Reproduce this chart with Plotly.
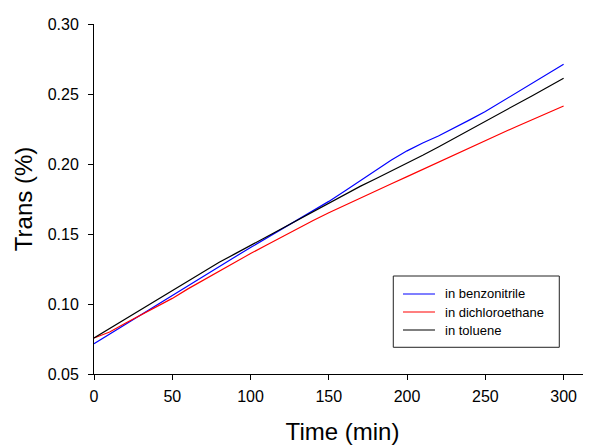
import plotly.graph_objects as go

time_min = [0, 10, 20, 30, 40, 50, 60, 70, 80, 90, 100, 110, 120, 130, 140, 150,
            160, 170, 180, 190, 200, 210, 220, 230, 240, 250, 260, 270, 280, 290, 300]
benzonitrile = [0.0716, 0.0785, 0.0855, 0.0925, 0.0995, 0.1065, 0.1133, 0.1200, 0.1268, 0.1336,
                0.1403, 0.1468, 0.1534, 0.1600, 0.1666, 0.1733, 0.1805, 0.1880, 0.1955, 0.2028,
                0.2094, 0.2150, 0.2200, 0.2255, 0.2315, 0.2375, 0.2442, 0.2510, 0.2578, 0.2645, 0.2712]
dichloroethane = [0.0757, 0.0800, 0.0862, 0.0922, 0.0985, 0.1040, 0.1108, 0.1172, 0.1236, 0.1298,
                  0.1360, 0.1420, 0.1480, 0.1540, 0.1597, 0.1652, 0.1705, 0.1757, 0.1808, 0.1859,
                  0.1910, 0.1962, 0.2014, 0.2066, 0.2117, 0.2168, 0.2218, 0.2268, 0.2317, 0.2366, 0.2414]
toluene = [0.0757, 0.0825, 0.0893, 0.0961, 0.1029, 0.1097, 0.1165, 0.1232, 0.1298, 0.1358,
           0.1418, 0.1478, 0.1540, 0.1602, 0.1663, 0.1723, 0.1782, 0.1840, 0.1895, 0.1950,
           0.2004, 0.2062, 0.2122, 0.2182, 0.2242, 0.2302, 0.2364, 0.2426, 0.2488, 0.2550, 0.2612]

x_ticks = [0, 50, 100, 150, 200, 250, 300]
y_ticks = [0.05, 0.10, 0.15, 0.20, 0.25, 0.30]
y_labels = ["0.05", "0.10", "0.15", "0.20", "0.25", "0.30"]

series_names = ["in benzonitrile", "in dichloroethane", "in toluene"]
series_colors = ["#0000ff", "#ff0000", "#000000"]
series_values = [benzonitrile, dichloroethane, toluene]

font = "Liberation Sans, Arial, sans-serif"

fig = go.Figure()
for name, color, vals in zip(series_names, series_colors, series_values):
    fig.add_trace(go.Scatter(x=time_min, y=vals, mode="lines", name=name,
                             line=dict(color=color, width=1.2)))

# Manual legend (box, line samples, labels) in paper coordinates
fig.add_shape(type="rect", xref="paper", yref="paper", x0=0.6022, x1=0.9362, y0=0.0763, y1=0.28,
              line=dict(color="#222222", width=1), fillcolor="white", layer="above")
row_y = [0.2286, 0.1771, 0.1257]
for name, color, yy in zip(series_names, series_colors, row_y):
    fig.add_shape(type="line", xref="paper", yref="paper", x0=0.6217, x1=0.6861, y0=yy, y1=yy,
                  line=dict(color=color, width=1.2), layer="above")
    fig.add_annotation(xref="paper", yref="paper", x=0.7022, y=yy, text=name, showarrow=False,
                       xanchor="left", yanchor="middle", font=dict(size=13, family=font, color="black"))

fig.update_layout(
    width=591, height=445,
    margin=dict(l=86, r=8, t=16, b=79),
    paper_bgcolor="white", plot_bgcolor="white",
    font=dict(family=font, color="black", size=16),
    showlegend=False,
    xaxis=dict(range=[0, 317.5], tickvals=x_ticks, ticks="outside", ticklen=5,
               tickcolor="black", showline=True, linecolor="black", linewidth=1,
               showgrid=False, zeroline=False, tickfont=dict(size=16), automargin=False,
               ticklabelstandoff=3,
               title=dict(text="Time (min)", font=dict(size=24), standoff=18)),
    yaxis=dict(range=[0.05, 0.30], tickvals=y_ticks, ticktext=y_labels, ticks="outside",
               ticklen=5, tickcolor="black", showline=True, linecolor="black", linewidth=1,
               showgrid=False, zeroline=False, tickfont=dict(size=16), automargin=False,
               ticklabelstandoff=6,
               title=dict(text="Trans (%)", font=dict(size=24), standoff=8)),
)

fig.write_html("out.html")
